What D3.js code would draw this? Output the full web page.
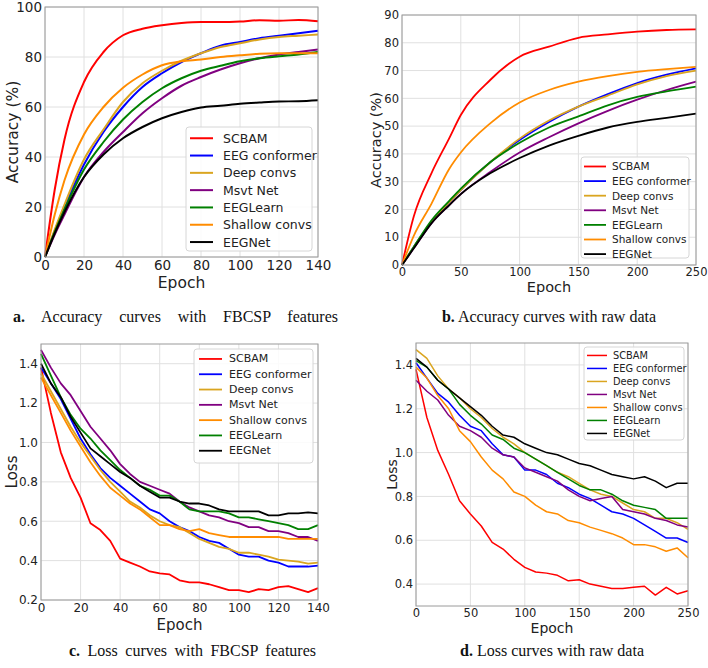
<!DOCTYPE html>
<html>
<head>
<meta charset="utf-8">
<script src="https://cdn.jsdelivr.net/npm/d3@7"></script>
<style>
  body { margin: 0; background: #fff; }
  svg { display: block; }
  .tick text { font-family: "DejaVu Sans", sans-serif; fill: #222; }
  .caption { font-family: "Liberation Serif", "Times New Roman", serif; fill: #111; }
</style>
</head>
<body>
<div id="root"></div>
<script>
// legend order differs between accuracy and loss panels
const accModels = ["SCBAM", "EEG conformer", "Deep convs", "Msvt Net", "EEGLearn", "Shallow convs", "EEGNet"];
const lossModels = ["SCBAM", "EEG conformer", "Deep convs", "Msvt Net", "Shallow convs", "EEGLearn", "EEGNet"];
const colors = {
    "SCBAM": "#ff0000",
    "EEG conformer": "#0000ff",
    "Deep convs": "#daa520",
    "Msvt Net": "#800080",
    "EEGLearn": "#008000",
    "Shallow convs": "#ff8c00",
    "EEGNet": "#000000"
};

// a. accuracy, FBCSP features
const epochsA = [0, 5, 10, 20, 30, 40, 50, 60, 70, 80, 90, 100, 110, 120, 130, 140];
const accFbcspScbam = [0, 27, 47, 70, 82, 88.7, 91.3, 92.7, 93.6, 94, 94, 94.2, 94.7, 94.5, 94.8, 94.3];
const accFbcspConformer = [0, 10.5, 20, 37, 50, 60, 68, 73.5, 78, 81.5, 84.5, 86, 87.5, 88.5, 89.5, 90.5];
const accFbcspDeep = [0, 11, 21, 39, 51, 62, 69.5, 74.5, 78.5, 81.5, 84, 85.5, 87, 88, 88.5, 89];
const accFbcspMsvt = [0, 9, 17, 32, 42, 50, 57.5, 63.5, 68.5, 72, 75, 77.5, 79.5, 81, 82, 83];
const accFbcspLearn = [0, 10, 19, 35, 46, 55, 62, 67.5, 71.5, 74.5, 76.5, 78.3, 79.5, 80.3, 81, 82];
const accFbcspShallow = [0, 17, 30.7, 49, 60, 67.7, 73, 76.7, 78.3, 79, 80, 80.7, 81.3, 81.5, 81.5, 81.5];
const accFbcspEegnet = [0, 9.5, 18, 32, 41, 47.5, 52, 55.5, 58, 59.8, 60.5, 61.3, 61.8, 62.2, 62.3, 62.7];

// b. accuracy, raw data
const epochsB = [0, 10, 25, 40, 50, 75, 100, 125, 150, 175, 200, 225, 250];
const accRawScbam = [0, 17.5, 33, 45.5, 54, 66.6, 75, 78.6, 81.8, 83, 84, 84.6, 84.8];
const accRawConformer = [0, 6.5, 15.5, 22.5, 27, 37, 45, 51.5, 57, 61.5, 65.5, 68.5, 70.8];
const accRawDeep = [0, 6.5, 15.5, 22.5, 27, 37, 45.5, 52, 57, 61, 65, 68, 70];
const accRawMsvt = [0, 6, 15, 21.5, 25.5, 33.5, 40.5, 46, 51, 55.5, 59.5, 63, 66];
const accRawLearn = [0, 6.5, 16, 23, 27.5, 37, 44, 49.5, 53.5, 57.5, 60.5, 62.5, 64.2];
const accRawShallow = [0, 10.5, 22, 34.5, 40.5, 51, 58.5, 63, 66, 68, 69.5, 70.5, 71.3];
const accRawEegnet = [0, 6, 15, 21.5, 25.5, 33, 38.5, 43, 46.5, 49.5, 51.5, 53, 54.5];

// c. loss, FBCSP features
const epochsC = [0, 5, 10, 15, 20, 25, 30, 35, 40, 45, 50, 55, 60, 65, 70, 75, 80, 85, 90, 95, 100, 105, 110, 115, 120, 125, 130, 135, 140];
const lossFbcspScbam = [1.38, 1.15, 0.95, 0.82, 0.72, 0.59, 0.555, 0.5, 0.41, 0.39, 0.37, 0.345, 0.335, 0.33, 0.3, 0.29, 0.29, 0.28, 0.265, 0.25, 0.25, 0.24, 0.255, 0.25, 0.265, 0.27, 0.255, 0.24, 0.26];
const lossFbcspConformer = [1.38, 1.3, 1.22, 1.12, 1.02, 0.94, 0.87, 0.82, 0.78, 0.74, 0.7, 0.66, 0.64, 0.6, 0.57, 0.55, 0.52, 0.5, 0.49, 0.46, 0.43, 0.42, 0.42, 0.4, 0.39, 0.37, 0.37, 0.37, 0.375];
const lossFbcspDeep = [1.35, 1.26, 1.17, 1.08, 1.0, 0.93, 0.86, 0.8, 0.75, 0.7, 0.67, 0.63, 0.6, 0.58, 0.57, 0.54, 0.51, 0.49, 0.47, 0.46, 0.44, 0.44, 0.43, 0.42, 0.405, 0.4, 0.395, 0.385, 0.39];
const lossFbcspMsvt = [1.47, 1.38, 1.3, 1.24, 1.16, 1.08, 1.02, 0.96, 0.89, 0.84, 0.8, 0.78, 0.76, 0.74, 0.7, 0.67, 0.65, 0.63, 0.62, 0.6, 0.59, 0.57, 0.57, 0.55, 0.55, 0.54, 0.52, 0.52, 0.5];
const lossFbcspShallow = [1.33, 1.24, 1.15, 1.06, 0.98, 0.9, 0.83, 0.77, 0.73, 0.69, 0.66, 0.62, 0.58, 0.58, 0.56, 0.55, 0.56, 0.54, 0.53, 0.52, 0.52, 0.52, 0.52, 0.52, 0.52, 0.51, 0.51, 0.51, 0.51];
const lossFbcspLearn = [1.45, 1.34, 1.23, 1.14, 1.07, 1.02, 0.96, 0.91, 0.86, 0.82, 0.78, 0.76, 0.73, 0.73, 0.7, 0.66, 0.65, 0.65, 0.65, 0.64, 0.62, 0.62, 0.61, 0.6, 0.59, 0.58, 0.56, 0.56, 0.58];
const lossFbcspEegnet = [1.4, 1.3, 1.23, 1.13, 1.05, 0.97, 0.93, 0.89, 0.85, 0.82, 0.78, 0.75, 0.72, 0.72, 0.7, 0.69, 0.69, 0.68, 0.66, 0.65, 0.65, 0.65, 0.65, 0.63, 0.63, 0.64, 0.64, 0.645, 0.64];

// d. loss, raw data
const epochsD = [0, 10, 20, 30, 40, 50, 60, 70, 80, 90, 100, 110, 120, 130, 140, 150, 160, 170, 180, 190, 200, 210, 220, 230, 240, 250];
const lossRawScbam = [1.38, 1.16, 1.01, 0.9, 0.78, 0.72, 0.665, 0.59, 0.56, 0.513, 0.476, 0.455, 0.45, 0.44, 0.415, 0.42, 0.4, 0.39, 0.38, 0.38, 0.385, 0.39, 0.35, 0.385, 0.355, 0.37];
const lossRawConformer = [1.41, 1.34, 1.27, 1.23, 1.17, 1.12, 1.1, 1.04, 0.99, 0.98, 0.92, 0.92, 0.9, 0.86, 0.84, 0.81, 0.79, 0.76, 0.73, 0.72, 0.7, 0.67, 0.64, 0.61, 0.61, 0.59];
const lossRawDeep = [1.47, 1.43, 1.35, 1.29, 1.25, 1.2, 1.16, 1.11, 1.07, 1.04, 1.0, 0.97, 0.94, 0.91, 0.89, 0.86, 0.83, 0.81, 0.8, 0.77, 0.74, 0.73, 0.7, 0.7, 0.68, 0.65];
const lossRawMsvt = [1.33, 1.28, 1.24, 1.17, 1.12, 1.1, 1.07, 1.02, 0.99, 0.98, 0.93, 0.91, 0.89, 0.87, 0.83, 0.8, 0.78, 0.79, 0.8, 0.74, 0.73, 0.72, 0.7, 0.69, 0.67, 0.66];
const lossRawShallow = [1.39, 1.34, 1.26, 1.2, 1.1, 1.05, 0.98, 0.92, 0.88, 0.82, 0.8, 0.76, 0.73, 0.72, 0.69, 0.68, 0.66, 0.645, 0.63, 0.61, 0.58, 0.58, 0.57, 0.55, 0.565, 0.52];
const lossRawLearn = [1.42, 1.39, 1.33, 1.29, 1.22, 1.17, 1.13, 1.08, 1.06, 1.02, 1.0, 0.97, 0.94, 0.91, 0.88, 0.85, 0.83, 0.83, 0.81, 0.78, 0.76, 0.75, 0.74, 0.7, 0.7, 0.7];
const lossRawEegnet = [1.43, 1.39, 1.33, 1.29, 1.25, 1.21, 1.17, 1.12, 1.08, 1.07, 1.04, 1.02, 1.0, 0.99, 0.97, 0.95, 0.94, 0.92, 0.9, 0.89, 0.88, 0.89, 0.87, 0.84, 0.86, 0.86];

const W = 708, H = 668;
const svg = d3.select("#root").append("svg")
    .attr("width", W)
    .attr("height", H);

const panels = [
    {
        epochs: epochsA, models: accModels,
        values: [accFbcspScbam, accFbcspConformer, accFbcspDeep, accFbcspMsvt, accFbcspLearn, accFbcspShallow, accFbcspEegnet],
        left: 45, right: 318, top: 7, bottom: 257,
        xDomain: [0, 140], yDomain: [0, 100],
        xTicks: d3.range(0, 141, 20), yTicks: d3.range(0, 101, 20), yFmt: d3.format("d"),
        tickFont: 13.5, titleFont: 15.5, lineW: 2, curve: d3.curveMonotoneX,
        yLabel: "Accuracy (%)", yLabelX: 13, xLabelY: 288,
        legend: { x: 186, y: 127, w: 126, h: 124, row: 17.3, font: 12.5, l0: 190, l1: 213, tx: 223 },
    },
    {
        epochs: epochsB, models: accModels,
        values: [accRawScbam, accRawConformer, accRawDeep, accRawMsvt, accRawLearn, accRawShallow, accRawEegnet],
        left: 402, right: 696, top: 15, bottom: 265,
        xDomain: [0, 250], yDomain: [0, 90],
        xTicks: d3.range(0, 251, 50), yTicks: d3.range(0, 91, 10), yFmt: d3.format("d"),
        tickFont: 11.5, titleFont: 14.5, lineW: 1.8, curve: d3.curveMonotoneX,
        yLabel: "Accuracy (%)", yLabelX: 376, xLabelY: 292,
        legend: { x: 581, y: 157, w: 108, h: 101, row: 14.6, font: 10.5, l0: 584, l1: 606, tx: 612 },
    },
    {
        epochs: epochsC, models: lossModels,
        values: [lossFbcspScbam, lossFbcspConformer, lossFbcspDeep, lossFbcspMsvt, lossFbcspShallow, lossFbcspLearn, lossFbcspEegnet],
        left: 41, right: 318, top: 344, bottom: 600,
        xDomain: [0, 140], yDomain: [0.2, 1.5],
        xTicks: d3.range(0, 141, 20), yTicks: [0.2, 0.4, 0.6, 0.8, 1.0, 1.2, 1.4], yFmt: d3.format(".1f"),
        tickFont: 12, titleFont: 15, lineW: 1.8, curve: d3.curveLinear,
        yLabel: "Loss", yLabelX: 12, xLabelY: 630,
        legend: { x: 194, y: 349, w: 119, h: 114, row: 15.3, font: 11, l0: 199, l1: 222, tx: 229 },
    },
    {
        epochs: epochsD, models: lossModels,
        values: [lossRawScbam, lossRawConformer, lossRawDeep, lossRawMsvt, lossRawShallow, lossRawLearn, lossRawEegnet],
        left: 416, right: 688, top: 343, bottom: 606,
        xDomain: [0, 250], yDomain: [0.3, 1.5],
        xTicks: d3.range(0, 251, 50), yTicks: [0.4, 0.6, 0.8, 1.0, 1.2, 1.4], yFmt: d3.format(".1f"),
        tickFont: 11.5, titleFont: 14, lineW: 1.5, curve: d3.curveLinear,
        yLabel: "Loss", yLabelX: 392, xLabelY: 633,
        legend: { x: 584, y: 347, w: 100, h: 93, row: 13, font: 9.8, l0: 587, l1: 607, tx: 613 },
    }
];

panels.forEach(p => {
    const x = d3.scaleLinear().domain(p.xDomain).range([p.left, p.right]);
    const y = d3.scaleLinear().domain(p.yDomain).range([p.bottom, p.top]);
    const g = svg.append("g");

    // grid
    g.append("g").selectAll("line")
        .data(p.xTicks)
        .join("line")
        .attr("x1", d => x(d)).attr("x2", d => x(d))
        .attr("y1", p.top).attr("y2", p.bottom)
        .attr("stroke", "#e0e0e0").attr("stroke-width", 1);
    g.append("g").selectAll("line")
        .data(p.yTicks)
        .join("line")
        .attr("x1", p.left).attr("x2", p.right)
        .attr("y1", d => y(d)).attr("y2", d => y(d))
        .attr("stroke", "#e0e0e0").attr("stroke-width", 1);

    // curves
    const line = d3.line()
        .x(d => x(d[0]))
        .y(d => y(d[1]))
        .curve(p.curve);
    p.models.forEach((m, k) => {
        const pts = p.epochs.map((e, i) => [e, p.values[k][i]]);
        g.append("path")
            .datum(pts)
            .attr("fill", "none")
            .attr("stroke", colors[m])
            .attr("stroke-width", p.lineW)
            .attr("stroke-linejoin", "round")
            .attr("d", line);
    });

    // frame
    g.append("rect")
        .attr("x", p.left).attr("y", p.top)
        .attr("width", p.right - p.left).attr("height", p.bottom - p.top)
        .attr("fill", "none").attr("stroke", "#9a9a9a").attr("stroke-width", 1);

    // axes, no tick marks
    const xAxis = g.append("g")
        .attr("transform", `translate(0,${p.bottom})`)
        .call(d3.axisBottom(x).tickValues(p.xTicks).tickSize(0).tickPadding(3).tickFormat(d3.format("d")));
    const yAxis = g.append("g")
        .attr("transform", `translate(${p.left},0)`)
        .call(d3.axisLeft(y).tickValues(p.yTicks).tickSize(0).tickPadding(3).tickFormat(p.yFmt));
    [xAxis, yAxis].forEach(a => {
        a.select(".domain").remove();
        a.selectAll("text").attr("font-size", p.tickFont);
    });

    g.append("text")
        .attr("x", (p.left + p.right) / 2)
        .attr("y", p.xLabelY)
        .attr("text-anchor", "middle")
        .attr("font-family", "DejaVu Sans, sans-serif")
        .attr("font-size", p.titleFont)
        .attr("fill", "#222")
        .text("Epoch");
    g.append("text")
        .attr("transform", `translate(${p.yLabelX},${(p.top + p.bottom) / 2}) rotate(-90)`)
        .attr("text-anchor", "middle")
        .attr("dominant-baseline", "central")
        .attr("font-family", "DejaVu Sans, sans-serif")
        .attr("font-size", p.titleFont)
        .attr("fill", "#222")
        .text(p.yLabel);

    // legend
    const L = p.legend;
    const lg = g.append("g");
    lg.append("rect")
        .attr("x", L.x).attr("y", L.y).attr("width", L.w).attr("height", L.h)
        .attr("rx", 3)
        .attr("fill", "rgba(255,255,255,0.85)").attr("stroke", "#d6d6d6");
    const rows = lg.selectAll("g.row")
        .data(p.models)
        .join("g")
        .attr("transform", (d, i) => `translate(0,${L.y + L.row * (i + 0.65)})`);
    rows.append("line")
        .attr("x1", L.l0).attr("x2", L.l1)
        .attr("stroke", d => colors[d]).attr("stroke-width", p.lineW);
    rows.append("text")
        .attr("x", L.tx)
        .attr("dominant-baseline", "central")
        .attr("font-family", "DejaVu Sans, sans-serif")
        .attr("font-size", L.font)
        .attr("fill", "#222")
        .text(d => d);
});

// captions: a and c are justified in the source (wide word gaps), b and d are centred
const captions = [
    { b: "a.", t: " Accuracy curves with FBCSP features", x: 13, y: 322, len: 325 },
    { b: "b.", t: " Accuracy curves with raw data", cx: 549, y: 322 },
    { b: "c.", t: " Loss curves with FBCSP features", x: 69, y: 656, len: 247 },
    { b: "d.", t: " Loss curves with raw data", cx: 552, y: 656 }
];
const cap = svg.append("g").selectAll("text")
    .data(captions)
    .join("text")
    .attr("class", "caption")
    .attr("x", d => d.len ? d.x : d.cx)
    .attr("y", d => d.y)
    .attr("text-anchor", d => d.len ? "start" : "middle")
    .attr("font-size", 16);
cap.append("tspan").attr("font-weight", "bold").text(d => d.b);
cap.append("tspan").text(d => d.t);
cap.filter(d => d.len).each(function(d) {
    const natural = this.getComputedTextLength();
    const gaps = (d.b + d.t).split(" ").length - 1;
    d3.select(this).attr("word-spacing", Math.max(0, (d.len - natural) / gaps));
});
</script>
</body>
</html>
